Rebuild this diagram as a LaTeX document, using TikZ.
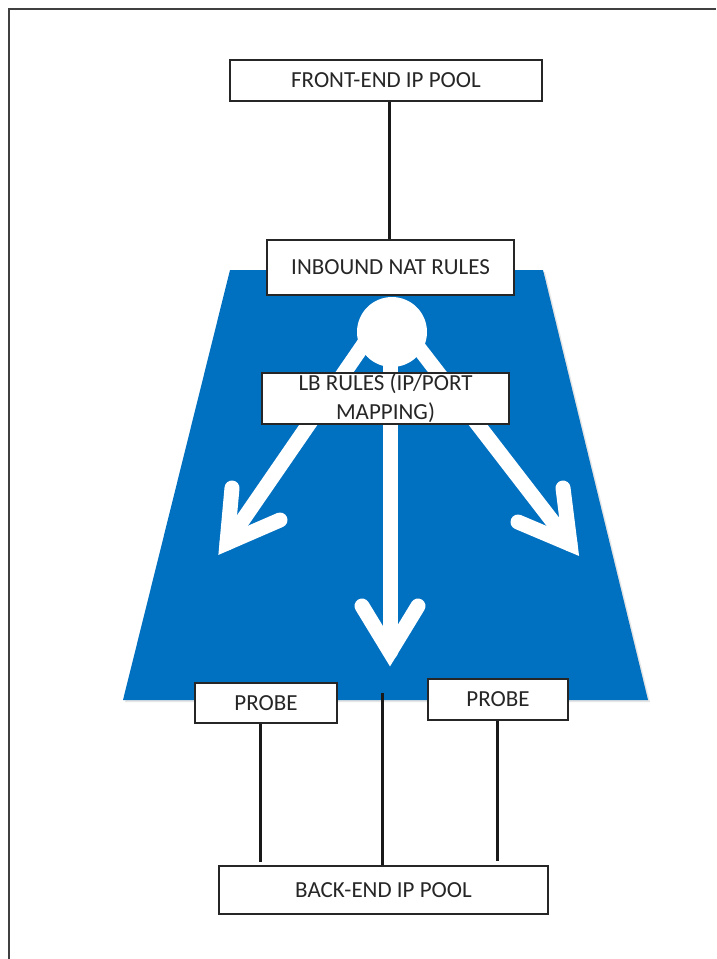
\documentclass[tikz,border=0pt]{standalone}
\usepackage{fontspec}
\setmainfont{Carlito}
\usetikzlibrary{calc}
\definecolor{lbblue}{HTML}{0070C0}
\definecolor{txt}{HTML}{262626}
\begin{document}
\begin{tikzpicture}[x=1pt,y=-1pt,
  box/.style={draw=black!85, line width=1.3pt, fill=white, text=txt,
    font=\fontsize{23}{29}\selectfont, inner sep=0pt, align=center},
  wire/.style={line width=3pt, black!90},
  warrow/.style={white, line width=15pt, line cap=round, line join=miter, miter limit=10}]
\useasboundingbox (0,0) rectangle (716,959);
\fill[white] (0,0) rectangle (716,959);
\draw[line width=2pt, black!75] (8.5,959) -- (8.5,8.5) -- (716,8.5);

% trapezoid
\fill[black!20, opacity=0.5] (232,272) -- (545,272) -- (650,702) -- (125,702) -- cycle;
\fill[lbblue] (230,270) -- (543,270) -- (648,700) -- (123,700) -- cycle;

% arrows
\coordinate (sL) at (366,341);
\coordinate (tL) at (227,543);
\coordinate (aL1) at (232,488);
\coordinate (aL2) at (280,520);
\coordinate (sR) at (415,343);
\coordinate (tR) at (570,544);
\coordinate (aR1) at (563,488);
\coordinate (aR2) at (518,522);
\coordinate (sC) at (390,340);
\coordinate (tC) at (390,652);
\coordinate (aC1) at (362,606);
\coordinate (aC2) at (418,606);
\draw[warrow] (sL) -- (tL);
\draw[warrow] (aL1) -- (tL) -- (aL2);
\draw[warrow] (sR) -- (tR);
\draw[warrow] (aR1) -- (tR) -- (aR2);
\draw[warrow] (sC) -- (tC);
\draw[warrow] (aC1) -- (tC) -- (aC2);

% hub
\node[circle, fill=white, minimum size=70pt, inner sep=0pt] (hub) at (392,332) {};

% boxes
\node[box, minimum width=312pt, minimum height=41pt] (front) at (386,80.5) {FRONT-END IP POOL};
\node[box, minimum width=247pt, minimum height=55pt] (nat) at (390.5,267.5) {INBOUND NAT RULES};
\node[box, minimum width=247pt, minimum height=51pt] (lb) at (385.5,398.5) {LB RULES (IP/PORT\\MAPPING)};
\node[box, minimum width=142pt, minimum height=40pt] (probeL) at (266,703) {PROBE};
\node[box, minimum width=140pt, minimum height=41pt] (probeR) at (498,699.5) {PROBE};
\node[box, minimum width=329pt, minimum height=48pt] (back) at (383.5,890) {BACK-END IP POOL};

% connectors
\coordinate (mid) at (382,693);
\draw[wire] (front.south -| 389,0) -- (nat.north -| 389,0);
\draw[wire] ([xshift=-6pt]probeL.south) -- ([xshift=-6pt,yshift=3pt]probeL.south |- back.north);
\draw[wire] (mid) -- (mid |- back.north);
\draw[wire] ([xshift=-1pt]probeR.south) -- ([xshift=-1pt,yshift=4pt]probeR.south |- back.north);
\end{tikzpicture}
\end{document}
